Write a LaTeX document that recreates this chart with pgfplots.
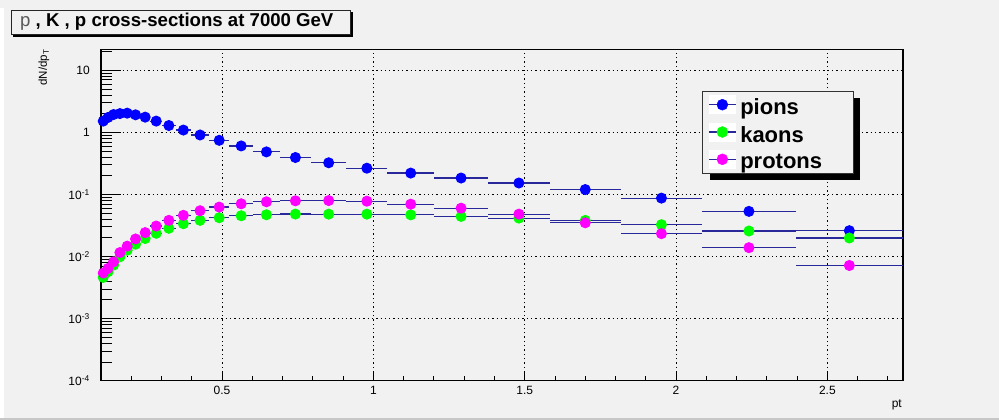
\documentclass[border=0pt]{standalone}
\usepackage{pgfplots}
\pgfplotsset{compat=1.18}
\usepackage{pgfplotstable}
\usepackage{fontspec}
\setmainfont{Liberation Sans}
\definecolor{bgcol}{RGB}{241,241,241}
\definecolor{picol}{RGB}{0,0,255}
\definecolor{kcol}{RGB}{0,255,0}
\definecolor{pcol}{RGB}{255,0,255}
\definecolor{errcol}{RGB}{40,40,155}

\pgfplotstableread{
x ex pi k p
0.1074 0.0074 1.52 0.00461 0.00542
0.1233 0.0085 1.74 0.00569 0.00643
0.1416 0.0098 1.94 0.00728 0.00822
0.1625 0.0112 2.01 0.00988 0.0116
0.1866 0.0129 2.04 0.01264 0.0147
0.2142 0.0148 1.92 0.0158 0.0192
0.2460 0.0170 1.76 0.0195 0.0243
0.2824 0.0195 1.52 0.0237 0.0310
0.3242 0.0223 1.29 0.0285 0.0383
0.3722 0.0257 1.09 0.0338 0.0461
0.4273 0.0295 0.908 0.0383 0.0547
0.4906 0.0338 0.745 0.0422 0.0626
0.5632 0.0388 0.605 0.0454 0.0708
0.6466 0.0446 0.485 0.0471 0.0762
0.7424 0.0512 0.394 0.0483 0.0790
0.8523 0.0588 0.324 0.0482 0.0798
0.9785 0.0675 0.265 0.0482 0.0779
1.1234 0.0774 0.221 0.0470 0.0697
1.2898 0.0889 0.184 0.0443 0.0601
1.4808 0.1021 0.153 0.0416 0.0482
1.7001 0.1172 0.120 0.0382 0.0350
1.9518 0.1346 0.0873 0.0326 0.0234
2.2409 0.1545 0.0534 0.0258 0.0139
2.5727 0.1773 0.0261 0.0199 0.00718
}\spectra

\newcommand{\legimg}[1]{\fill[white] (-13.3bp,-6.1bp) rectangle (13.3bp,11.9bp);
    \draw[errcol,line width=1.2bp] (-13.3bp,2.9bp)--(13.3bp,2.9bp);
    \fill[#1] (0bp,2.9bp) circle (5.5bp);}

\begin{document}
\begin{tikzpicture}
\path[use as bounding box] (0bp,0bp) rectangle (999bp,420bp);
\fill[bgcol] (0bp,0bp) rectangle (999bp,420bp);
\fill[white] (0bp,2bp) rectangle (4bp,412bp);
\fill[black!22] (0bp,0bp) rectangle (999bp,1.6bp);
% title box
\fill[black] (13.3bp,383.3bp) rectangle (353bp,407.7bp);
\filldraw[fill=bgcol, draw=black!85, line width=0.8bp] (11bp,385.7bp) rectangle (350.7bp,410bp);
\node[anchor=base west, inner sep=0pt, font=\fontsize{18.6bp}{21bp}\selectfont] at (20bp,393.3bp)
  {{\color{black!65}p}\textbf{ , K , p cross-sections at 7000 GeV}};

% grid and x ticks
\begin{axis}[
  width=802bp, height=331.4bp, scale only axis,
  at={(101bp,39.3bp)}, anchor=south west,
  xmin=0.1, xmax=2.75, ymode=log, ymin=1e-4, ymax=21.8,
  tick align=inside, xtick pos=left, ytick pos=left,
  axis line style={draw=none},
  xtick={0.5,1,1.5,2,2.5}, xticklabels={0.5,1,1.5,2,2.5},
  minor xtick={0.2,0.3,0.4,0.6,0.7,0.8,0.9,1.1,1.2,1.3,1.4,1.6,1.7,1.8,1.9,2.1,2.2,2.3,2.4,2.6,2.7},
  ytick={1e-4,1e-3,1e-2,1e-1,1,10}, yticklabels={,,,,,}, ytick style={draw=none}, yminorticks=false,
  grid=major, major grid style={black, line width=0.9bp, dash pattern=on 1.3bp off 3bp},
  major tick length=10bp, minor tick length=5bp,
  xtick style={black, line width=0.9bp},
  xticklabel style={font=\fontsize{12bp}{14bp}\selectfont, inner sep=0pt, anchor=north},
  xticklabel shift=5bp,
]
\end{axis}

% legend box
\fill[black] (709.7bp,239.7bp) rectangle (860.3bp,322bp);
\filldraw[fill=bgcol, draw=black!80, line width=0.8bp] (702.7bp,246.7bp) rectangle (853.3bp,329bp);

\begin{axis}[
  width=802bp, height=331.4bp, scale only axis,
  at={(101bp,39.3bp)}, anchor=south west,
  xmin=0.1, xmax=2.75, ymode=log, ymin=1e-4, ymax=21.8,
  tick align=inside, xtick pos=left, ytick pos=left,
  axis line style={black, line width=1.4bp},
  xtick=\empty,
  ytick={1e-4,1e-3,1e-2,1e-1,1,10},
  yticklabels={10\textsuperscript{-4},10\textsuperscript{-3},10\textsuperscript{-2},10\textsuperscript{-1},1,10},
  minor ytick={2e-4,3e-4,4e-4,5e-4,6e-4,7e-4,8e-4,9e-4,
    2e-3,3e-3,4e-3,5e-3,6e-3,7e-3,8e-3,9e-3,
    0.02,0.03,0.04,0.05,0.06,0.07,0.08,0.09,
    0.2,0.3,0.4,0.5,0.6,0.7,0.8,0.9,
    2,3,4,5,6,7,8,9,20},
  major tick length=20bp, minor tick length=11bp,
  ytick style={black, line width=0.9bp},
  yticklabel style={font=\fontsize{12bp}{14bp}\selectfont, inner sep=0pt, anchor=east},
  yticklabel shift=11bp,
  legend cell align=left,
  legend style={draw=none, fill=none, at={(rel axis cs:0.7572,0.8612)}, anchor=north west,
    inner sep=0pt, row sep=4.5bp, column sep=2bp,
    font=\bfseries\fontsize{22bp}{24bp}\selectfont},
]
\addplot[only marks, mark=*, mark size=5bp, mark options={draw=picol, fill=picol, line width=1bp},
  legend image code/.code={\legimg{picol}},
  error bars/.cd, x dir=both, x explicit, error mark=none,
  error bar style={errcol, line width=1.2bp}]
  table[x=x, y=pi, x error=ex] {\spectra};
\addlegendentry{pions}
\addplot[only marks, mark=*, mark size=5bp, mark options={draw=kcol, fill=kcol, line width=1bp},
  legend image code/.code={\legimg{kcol}},
  error bars/.cd, x dir=both, x explicit, error mark=none,
  error bar style={errcol, line width=1.2bp}]
  table[x=x, y=k, x error=ex] {\spectra};
\addlegendentry{kaons}
\addplot[only marks, mark=*, mark size=5bp, mark options={draw=pcol, fill=pcol, line width=1bp},
  legend image code/.code={\legimg{pcol}},
  error bars/.cd, x dir=both, x explicit, error mark=none,
  error bar style={errcol, line width=1.2bp}]
  table[x=x, y=p, x error=ex] {\spectra};
\addlegendentry{protons}
\end{axis}

\node[rotate=90, anchor=east, inner sep=0pt, font=\fontsize{11.5bp}{13bp}\selectfont] at (44bp,370.7bp) {dN/dp\textsubscript{T}};
\node[anchor=north east, inner sep=0pt, font=\fontsize{12bp}{14bp}\selectfont] at (902bp,20.5bp) {pt};
\end{tikzpicture}
\end{document}
